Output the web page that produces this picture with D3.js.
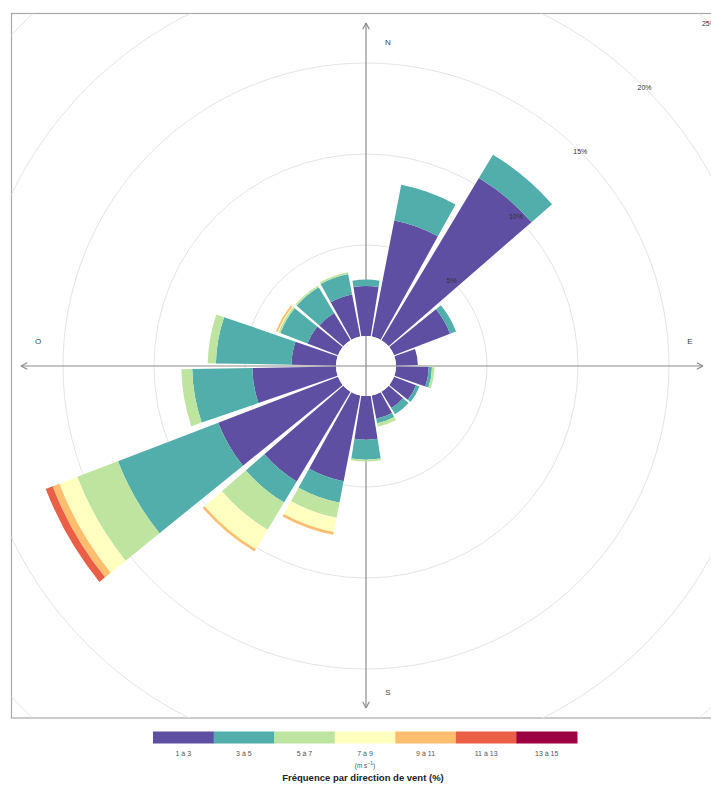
<!DOCTYPE html>
<html>
<head>
<meta charset="utf-8">
<script src="https://cdn.jsdelivr.net/npm/d3@7"></script>
<style>
  body { margin: 0; background: #fff; }
  svg { display: block; font-family: "Liberation Sans", Arial, Helvetica, sans-serif; }
</style>
</head>
<body>
<svg id="chart" width="711" height="791"></svg>
<script>
// Wind directions (degrees, clockwise from north), 20° sectors
const directions = [0, 20, 40, 60, 80, 100, 120, 140, 160, 180, 200, 220, 240, 260, 280, 300, 320, 340];

// Wind speed classes (m/s)
const speedLabels = ["1 à 3", "3 à 5", "5 à 7", "7 à 9", "9 à 11", "11 à 13", "13 à 15"];
const speedColors = ["#5E4FA2", "#52AEAB", "#BEE5A0", "#FFFFBF", "#FDBF6F", "#EA5F46", "#9E0142"];

// Frequency (%) per direction for each speed class
const freq1to3   = [2.75, 6.5, 10.4, 3.3, 1.2, 1.8, 1.3, 1.05, 1.3, 2.4, 4.8, 5.75, 7.05, 4.6, 2.45, 1.8, 1.75, 2.35];
const freq3to5   = [0.35, 2.0, 1.5, 0.35, 0, 0.18, 0.2, 0.4, 0.25, 1.1, 1.2, 1.35, 5.9, 3.3, 4.15, 1.6, 1.65, 1.15];
const freq5to7   = [0, 0, 0, 0, 0, 0.14, 0, 0, 0.2, 0.1, 0.85, 1.75, 2.4, 0.6, 0.45, 0.1, 0.1, 0.1];
const freq7to9   = [0, 0, 0, 0, 0, 0, 0, 0, 0, 0, 0.8, 1.25, 1.05, 0, 0, 0.05, 0, 0];
const freq9to11  = [0, 0, 0, 0, 0, 0, 0, 0, 0, 0, 0.15, 0.15, 0.4, 0, 0, 0.1, 0, 0];
const freq11to13 = [0, 0, 0, 0, 0, 0, 0, 0, 0, 0, 0, 0, 0.4, 0, 0, 0, 0, 0];
const freq13to15 = [0, 0, 0, 0, 0, 0, 0, 0, 0, 0, 0, 0, 0, 0, 0, 0, 0, 0];

const ringTicks = [5, 10, 15, 20, 25];
const compassLabels = [
  { text: "N", deg: 0 }, { text: "E", deg: 90 }, { text: "S", deg: 180 }, { text: "O", deg: 270 }
];
const legendTitle = "Fréquence par direction de vent (%)";

const seriesList = [freq1to3, freq3to5, freq5to7, freq7to9, freq9to11, freq11to13, freq13to15];

const svg = d3.select("#chart");
const cx = 366, cy = 366;
const hole = 30;

// radial scale: percentage -> pixel radius (with central hole)
const r = d3.scaleLinear().domain([0, 25]).range([hole, hole + 18.2 * 25]);
const rad = d => d * Math.PI / 180;

// panel frame + clip
svg.append("defs").append("clipPath").attr("id", "panel")
  .append("rect").attr("x", 11.5).attr("y", 13.5).attr("width", 720).attr("height", 704.5);

svg.append("rect")
  .attr("x", 11.5).attr("y", 13.5).attr("width", 720).attr("height", 704.5)
  .attr("fill", "none").attr("stroke", "#a8a8a8").attr("stroke-width", 1.2);

const plot = svg.append("g").attr("clip-path", "url(#panel)")
  .append("g").attr("transform", `translate(${cx},${cy})`);

// grid rings
plot.selectAll("circle.ring").data(ringTicks).join("circle")
  .attr("class", "ring")
  .attr("r", d => r(d))
  .attr("fill", "none")
  .attr("stroke", "#e4e4e4")
  .attr("stroke-width", 1);

// axes with arrows
const axisColor = "#8c8c8c";
function arrowLine(x1, y1, x2, y2) {
  plot.append("line").attr("x1", x1).attr("y1", y1).attr("x2", x2).attr("y2", y2)
    .attr("stroke", axisColor).attr("stroke-width", 1.2);
  const ang = Math.atan2(y2 - y1, x2 - x1);
  const len = 7, spread = rad(28);
  [1, -1].forEach(s => {
    plot.append("line")
      .attr("x1", x2).attr("y1", y2)
      .attr("x2", x2 - len * Math.cos(ang + s * spread))
      .attr("y2", y2 - len * Math.sin(ang + s * spread))
      .attr("stroke", axisColor).attr("stroke-width", 1.2);
  });
}
arrowLine(0, 0, 0, -343);
arrowLine(0, 0, 0, 342);
arrowLine(0, 0, 337, 0);
arrowLine(0, 0, -345, 0);

// stacked wedges
const arc = d3.arc();
const halfWidth = 9;
const wedges = [];
directions.forEach((dir, i) => {
  let cum = 0;
  seriesList.forEach((series, k) => {
    const v = series[i];
    if (v > 0) {
      wedges.push({ dir, inner: cum, outer: cum + v, color: speedColors[k] });
    }
    cum += v;
  });
});

plot.selectAll("path.wedge").data(wedges).join("path")
  .attr("class", "wedge")
  .attr("d", d => arc({
    innerRadius: r(d.inner),
    outerRadius: r(d.outer),
    startAngle: rad(d.dir - halfWidth),
    endAngle: rad(d.dir + halfWidth)
  }))
  .attr("fill", d => d.color);

// central hole
plot.append("circle").attr("r", hole).attr("fill", "#fff");
plot.append("line").attr("x1", -hole).attr("x2", hole).attr("y1", 0).attr("y2", 0)
  .attr("stroke", axisColor).attr("stroke-width", 1.2);
plot.append("line").attr("y1", -hole).attr("y2", hole).attr("x1", 0).attr("x2", 0)
  .attr("stroke", axisColor).attr("stroke-width", 1.2);

// ring labels along the NE diagonal
plot.selectAll("text.ringlab").data(ringTicks).join("text")
  .attr("class", "ringlab")
  .attr("x", d => r(d) * Math.sin(rad(45)))
  .attr("y", d => -r(d) * Math.cos(rad(45)) + 2.5)
  .attr("text-anchor", "middle")
  .attr("font-size", 7)
  .attr("fill", "#333")
  .text(d => d + "%");

// compass letters
const compassPos = { N: [22, -324], S: [22, 326], O: [-328, -25], E: [324, -25] };
plot.selectAll("text.compass").data(compassLabels).join("text")
  .attr("class", "compass")
  .attr("x", d => compassPos[d.text][0])
  .attr("y", d => compassPos[d.text][1] + 3)
  .attr("text-anchor", "middle")
  .attr("font-size", 8)
  .attr("fill", "#444")
  .text(d => d.text);

// legend colour bar
const legendX = d3.scaleBand().domain(speedLabels).range([153, 577]).padding(0);
const legend = svg.append("g");
legend.selectAll("rect").data(speedLabels).join("rect")
  .attr("x", d => legendX(d))
  .attr("y", 731.5)
  .attr("width", legendX.bandwidth() + 0.5)
  .attr("height", 12)
  .attr("fill", (d, i) => speedColors[i]);

legend.selectAll("text.lab").data(speedLabels).join("text")
  .attr("class", "lab")
  .attr("x", d => legendX(d) + legendX.bandwidth() / 2)
  .attr("y", 756)
  .attr("text-anchor", "middle")
  .attr("font-size", 7)
  .attr("fill", "#555")
  .text(d => d);

const unit = legend.append("text")
  .attr("x", 365).attr("y", 768)
  .attr("text-anchor", "middle")
  .attr("font-size", 6.5)
  .attr("fill", "#555");
unit.append("tspan").text("(m s");
unit.append("tspan").attr("dy", -3).attr("font-size", 5).text("−1");
unit.append("tspan").attr("dy", 3).text(")");

legend.append("text")
  .attr("x", 363).attr("y", 781)
  .attr("text-anchor", "middle")
  .attr("font-size", 9.5)
  .attr("font-weight", "bold")
  .attr("fill", "#222")
  .text(legendTitle);
</script>
</body>
</html>
